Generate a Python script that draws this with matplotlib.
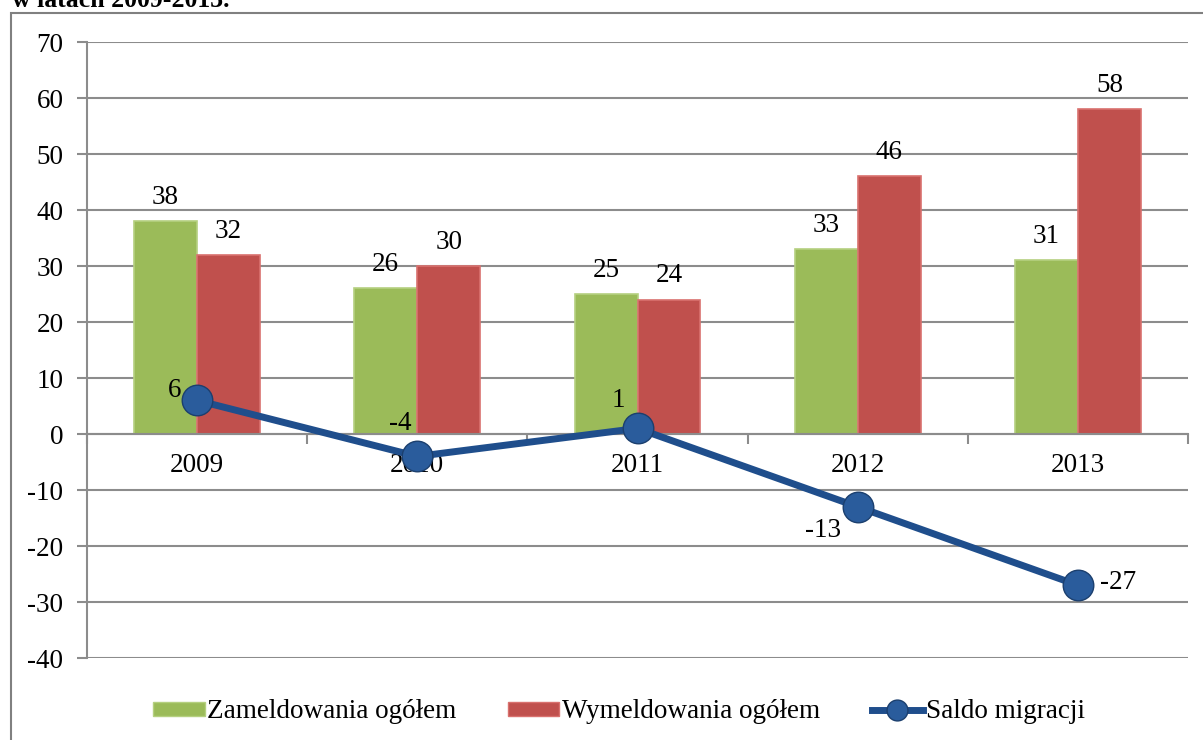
import matplotlib.pyplot as plt
import matplotlib.patches as patches
from matplotlib.lines import Line2D
from matplotlib.ticker import FixedLocator

years = ['2009', '2010', '2011', '2012', '2013']
zameldowania = [38, 26, 25, 33, 31]
wymeldowania = [32, 30, 24, 46, 58]
saldo = [6, -4, 1, -13, -27]

# label offsets (points) for the saldo line labels
saldo_offsets = [(-16, 7), (-12, 24), (-14, 20), (-25, -17), (29, 2)]

plt.rcParams['font.family'] = ['Liberation Serif', 'DejaVu Serif']
plt.rcParams['axes.unicode_minus'] = False
fs = 19.5

fig = plt.figure(figsize=(12.03, 7.40), dpi=100)
ax = fig.add_axes([87 / 1203, 1 - 658 / 740, (1188 - 87) / 1203, (658 - 42) / 740])

x = list(range(len(years)))
w = 0.286
green = '#9BBB59'
red = '#C0504D'
blue = '#1F4E8C'

ax.bar([i - w / 2 for i in x], zameldowania, w, color=green, edgecolor='#B5D080', linewidth=1.2, zorder=3)
ax.bar([i + w / 2 for i in x], wymeldowania, w, color=red, edgecolor='#D9716E', linewidth=1.2, zorder=3)

for i in x:
    ax.annotate(str(zameldowania[i]), (i - w / 2, zameldowania[i]), xytext=(0, 8),
                textcoords='offset points', ha='center', va='bottom', fontsize=fs)
    ax.annotate(str(wymeldowania[i]), (i + w / 2, wymeldowania[i]), xytext=(0, 8),
                textcoords='offset points', ha='center', va='bottom', fontsize=fs)

ax.plot(x, saldo, color=blue, linewidth=5, marker='o', markersize=22,
        markerfacecolor='#2A5C9C', markeredgecolor='#1B3F6E', markeredgewidth=1, zorder=5)
for i in x:
    ax.annotate(str(saldo[i]), (i, saldo[i]), xytext=saldo_offsets[i],
                textcoords='offset points', ha='center', va='center', fontsize=fs, zorder=6)

ax.set_xlim(-0.5, 4.5)
ax.set_ylim(-40, 70)
ax.set_yticks(range(-40, 71, 10))
ax.yaxis.grid(True, color='#8C8C8C', linewidth=1.5, zorder=0)
ax.set_axisbelow(True)

for s in ['top', 'right']:
    ax.spines[s].set_visible(False)
ax.spines['left'].set_color('#8C8C8C')
ax.spines['left'].set_linewidth(1.5)
ax.spines['bottom'].set_position(('data', 0))
ax.spines['bottom'].set_color('#8C8C8C')
ax.spines['bottom'].set_linewidth(1.5)
ax.spines['bottom'].set_zorder(4)

ax.set_xticks(x)
ax.set_xticklabels(years, fontsize=fs)
ax.tick_params(axis='x', which='major', length=0, pad=14)
ax.xaxis.set_minor_locator(FixedLocator([-0.5, 0.5, 1.5, 2.5, 3.5, 4.5]))
ax.tick_params(axis='x', which='minor', length=7, width=1.5, color='#8C8C8C')
ax.tick_params(axis='y', length=7, width=1.5, color='#8C8C8C', labelsize=fs, pad=10)

handles = [
    patches.Patch(facecolor=green, edgecolor='#B5D080'),
    patches.Patch(facecolor=red, edgecolor='#D9716E'),
    Line2D([], [], color=blue, linewidth=5, marker='o', markersize=15,
           markerfacecolor='#2A5C9C', markeredgecolor='#1B3F6E'),
]
fig.legend(handles, ['Zameldowania ogółem', 'Wymeldowania ogółem', 'Saldo migracji'],
           loc='center', bbox_to_anchor=(619 / 1203, 1 - 712 / 740), ncol=3, frameon=False,
           fontsize=fs, handlelength=1.9, handleheight=0.45, handletextpad=0.1,
           columnspacing=1.9)

fig.patches.append(patches.Rectangle((11 / 1203, -0.05), 1.1, 1.05 - 13 / 740,
                                     transform=fig.transFigure, fill=False,
                                     edgecolor='#808080', linewidth=1.5))
fig.text(12 / 1203, 1 - 7 / 740, 'w latach 2009-2013.', fontsize=18.5, fontweight='bold',
         ha='left', va='baseline')

fig.savefig('out.png', dpi=100)
